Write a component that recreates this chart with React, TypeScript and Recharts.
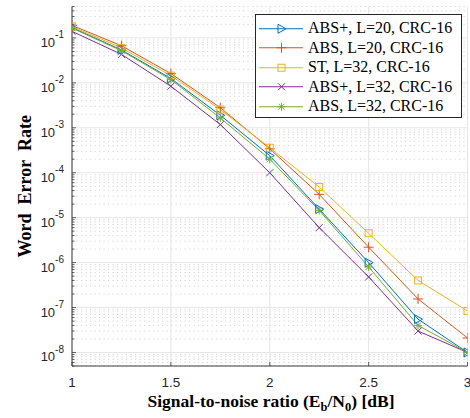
import React from "react";
import { LineChart, Line, XAxis, YAxis, CartesianGrid, Legend } from "recharts";

// Eb/N0 points (dB)
const SNR_DB = [1, 1.25, 1.5, 1.75, 2, 2.25, 2.5, 2.75, 3];

// word error rate per scheme
const ABS_PLUS_L20 = [0.17, 0.054, 0.0125, 1.9e-3, 2.4e-4, 1.55e-5, 1.0e-6, 5.5e-8, 1.0e-8];
const ABS_L20 = [0.19, 0.067, 0.0161, 2.8e-3, 3.4e-4, 3.3e-5, 2.2e-6, 1.55e-7, 2.1e-8];
const ST_L32 = [0.18, 0.06, 0.0145, 2.55e-3, 3.6e-4, 4.8e-5, 4.5e-6, 4.0e-7, 8.4e-8];
const ABS_PLUS_L32 = [0.14, 0.043, 0.0084, 1.18e-3, 1.0e-4, 6.0e-6, 4.8e-7, 3.0e-8, 1.0e-8];
const ABS_L32 = [0.165, 0.052, 0.0118, 1.65e-3, 2.0e-4, 1.45e-5, 8.0e-7, 4.0e-8, 1.0e-8];

const X_TICKS = [1, 1.5, 2, 2.5, 3];
const DECADE_TICKS = [1e-8, 1e-7, 1e-6, 1e-5, 1e-4, 1e-3, 1e-2, 1e-1];
const Y_DOMAIN: [number, number] = [5e-9, 0.5];

// minor ticks 2..9 x 10^k inside the domain
const MINOR_TICKS: number[] = [];
for (let e = -9; e <= -1; e++) {
  for (let m = 2; m <= 9; m++) {
    const v = m * Math.pow(10, e);
    if (v >= Y_DOMAIN[0] && v <= Y_DOMAIN[1]) MINOR_TICKS.push(Number(v.toPrecision(3)));
  }
}
const ALL_Y_TICKS = [...DECADE_TICKS, ...MINOR_TICKS].sort((a, b) => a - b);

const SERIES = [
  { key: "absPlus20", name: "ABS+, L=20, CRC-16", color: "#0072BD", shape: "triangle", values: ABS_PLUS_L20 },
  { key: "abs20", name: "ABS, L=20, CRC-16", color: "#D95319", shape: "plus", values: ABS_L20 },
  { key: "st32", name: "ST, L=32, CRC-16", color: "#EDB120", shape: "square", values: ST_L32 },
  { key: "absPlus32", name: "ABS+, L=32, CRC-16", color: "#7E2F8E", shape: "cross", values: ABS_PLUS_L32 },
  { key: "abs32", name: "ABS, L=32, CRC-16", color: "#77AC30", shape: "star", values: ABS_L32 },
];

const data = SNR_DB.map((x, i) => {
  const row: Record<string, number> = { x };
  SERIES.forEach((s) => (row[s.key] = s.values[i]));
  return row;
});

const AXIS_COLOR = "#3a3a3a";
const TICK_FONT = "Liberation Sans, Arial, sans-serif";
const SERIF = "Liberation Serif, Times New Roman, serif";
const Y_TICK_MARGIN = 8;

const isDecade = (v: number) => Math.abs(Math.log10(v) - Math.round(Math.log10(v))) < 1e-6;

function Marker({ shape, cx, cy, color }: { shape: string; cx: number; cy: number; color: string }) {
  const p = { stroke: color, strokeWidth: 1, fill: "none" };
  switch (shape) {
    case "triangle":
      return <polygon points={`${cx - 3.5},${cy - 4.5} ${cx - 3.5},${cy + 4.5} ${cx + 4.5},${cy}`} {...p} />;
    case "plus":
      return (
        <g {...p}>
          <line x1={cx - 5} x2={cx + 5} y1={cy} y2={cy} />
          <line x1={cx} x2={cx} y1={cy - 5} y2={cy + 5} />
        </g>
      );
    case "square":
      return <rect x={cx - 3.5} y={cy - 3.5} width={7} height={7} {...p} />;
    case "cross":
      return (
        <g {...p}>
          <line x1={cx - 3.5} x2={cx + 3.5} y1={cy - 3.5} y2={cy + 3.5} />
          <line x1={cx - 3.5} x2={cx + 3.5} y1={cy + 3.5} y2={cy - 3.5} />
        </g>
      );
    default:
      return (
        <g {...p}>
          <line x1={cx - 4} x2={cx + 4} y1={cy} y2={cy} />
          <line x1={cx} x2={cx} y1={cy - 4} y2={cy + 4} />
          <line x1={cx - 3} x2={cx + 3} y1={cy - 3} y2={cy + 3} />
          <line x1={cx - 3} x2={cx + 3} y1={cy + 3} y2={cy - 3} />
        </g>
      );
  }
}

const LeftTick = (props: any) => {
  const { x, y, payload } = props;
  const v = payload.value;
  const major = isDecade(v);
  const ax = x + Y_TICK_MARGIN;
  return (
    <g>
      <line x1={ax} x2={ax + (major ? 4 : 2.5)} y1={y} y2={y} stroke={AXIS_COLOR} strokeWidth={0.8} />
      {major && (
        <text x={x} y={y + 9} textAnchor="end" fill="#262626" fontFamily={TICK_FONT} fontSize={13}>
          10
          <tspan dy={-8.5} fontSize={10}>
            {Math.round(Math.log10(v))}
          </tspan>
        </text>
      )}
    </g>
  );
};

const RightTick = (props: any) => {
  const { x, y, payload } = props;
  const major = isDecade(payload.value);
  return <line x1={x} x2={x - (major ? 4 : 2.5)} y1={y} y2={y} stroke={AXIS_COLOR} strokeWidth={0.8} />;
};

const BottomTick = (props: any) => {
  const { x, y, payload } = props;
  return (
    <g>
      <line x1={x} x2={x} y1={y} y2={y - 4} stroke={AXIS_COLOR} strokeWidth={0.8} />
      <text x={x} y={y + 21} textAnchor="middle" fill="#262626" fontFamily={TICK_FONT} fontSize={13.5}>
        {payload.value}
      </text>
    </g>
  );
};

const TopTick = (props: any) => {
  const { x, y } = props;
  return <line x1={x} x2={x} y1={y} y2={y + 4} stroke={AXIS_COLOR} strokeWidth={0.8} />;
};

const LegendBox = () => (
  <div
    style={{
      width: 207,
      height: 104,
      border: "1px solid #262626",
      background: "#fff",
      boxSizing: "border-box",
      paddingTop: 3.5,
    }}
  >
    {SERIES.map((s) => (
      <div key={s.key} style={{ display: "flex", alignItems: "center", height: 19.5 }}>
        <svg width={50} height={19.5} style={{ flex: "none" }}>
          <line x1={3} x2={47} y1={9.75} y2={9.75} stroke={s.color} strokeWidth={1} />
          <Marker shape={s.shape} cx={25.5} cy={9.75} color={s.color} />
        </svg>
        <span style={{ fontFamily: SERIF, fontSize: 16, marginLeft: 2, whiteSpace: "nowrap", color: "#000" }}>
          {s.name}
        </span>
      </div>
    ))}
  </div>
);

export default function App() {
  return (
    <div style={{ position: "absolute", left: 0, top: 0, width: 470, height: 418, background: "#fff" }}>
      <LineChart width={470} height={418} data={data} margin={{ top: 6.5, right: 2.5, left: 0, bottom: 0 }}>
        <CartesianGrid
          vertical={false}
          horizontalValues={MINOR_TICKS}
          stroke="#d4d4d4"
          strokeDasharray="1.2 3.3"
        />
        <CartesianGrid horizontalValues={DECADE_TICKS} verticalValues={X_TICKS} stroke="#e6e6e6" strokeWidth={1} />
        <XAxis
          dataKey="x"
          type="number"
          domain={[1, 3]}
          ticks={X_TICKS}
          interval={0}
          allowDataOverflow
          height={52}
          tickSize={0}
          tickMargin={0}
          tickLine={false}
          tick={<BottomTick />}
          axisLine={{ stroke: AXIS_COLOR }}
          label={{
            content: () => (
              <text x={271} y={407} textAnchor="middle" fontFamily={SERIF} fontWeight="bold" fontSize={17.5} fill="#000">
                Signal-to-noise ratio (E
                <tspan dy={4} fontSize={12.5}>b</tspan>
                <tspan dy={-4}>/N</tspan>
                <tspan dy={4} fontSize={12.5}>0</tspan>
                <tspan dy={-4}>) [dB]</tspan>
              </text>
            ),
          }}
        />
        <XAxis
          xAxisId="t"
          orientation="top"
          dataKey="x"
          type="number"
          domain={[1, 3]}
          ticks={X_TICKS}
          interval={0}
          allowDataOverflow
          height={0}
          tickSize={0}
          tickMargin={0}
          tickLine={false}
          tick={<TopTick />}
          axisLine={{ stroke: AXIS_COLOR }}
        />
        <YAxis
          type="number"
          scale="log"
          domain={Y_DOMAIN}
          ticks={ALL_Y_TICKS}
          interval={0}
          allowDataOverflow
          width={72}
          tickSize={0}
          tickMargin={Y_TICK_MARGIN}
          tickLine={false}
          tick={<LeftTick />}
          axisLine={{ stroke: AXIS_COLOR }}
          label={{
            content: (p: any) => {
              const vb = p.viewBox || { y: 6.5, height: 359.5 };
              const cy = vb.y + vb.height / 2;
              return (
                <text
                  x={31}
                  y={cy}
                  transform={`rotate(-90 31 ${cy})`}
                  textAnchor="middle"
                  fontFamily={SERIF}
                  fontWeight="bold"
                  fontSize={18}
                  fill="#000"
                  style={{ whiteSpace: "pre" }}
                >
                  {"Word  Error  Rate"}
                </text>
              );
            },
          }}
        />
        <YAxis
          yAxisId="r"
          orientation="right"
          type="number"
          scale="log"
          domain={Y_DOMAIN}
          ticks={ALL_Y_TICKS}
          interval={0}
          allowDataOverflow
          width={0}
          tickSize={0}
          tickMargin={0}
          tickLine={false}
          tick={<RightTick />}
          axisLine={{ stroke: AXIS_COLOR }}
        />
        {SERIES.map((s) => (
          <Line
            key={s.key}
            dataKey={s.key}
            name={s.name}
            stroke={s.color}
            strokeWidth={1}
            isAnimationActive={false}
            dot={(p: any) => (
              <Marker key={`${s.key}-${p.index}`} shape={s.shape} cx={p.cx} cy={p.cy} color={s.color} />
            )}
            activeDot={false}
          />
        ))}
        <Legend
          layout="vertical"
          align="center"
          verticalAlign="middle"
          content={<LegendBox />}
          wrapperStyle={{ position: "absolute", left: 255, top: 14, width: 207, height: 104 }}
        />
      </LineChart>
    </div>
  );
}
